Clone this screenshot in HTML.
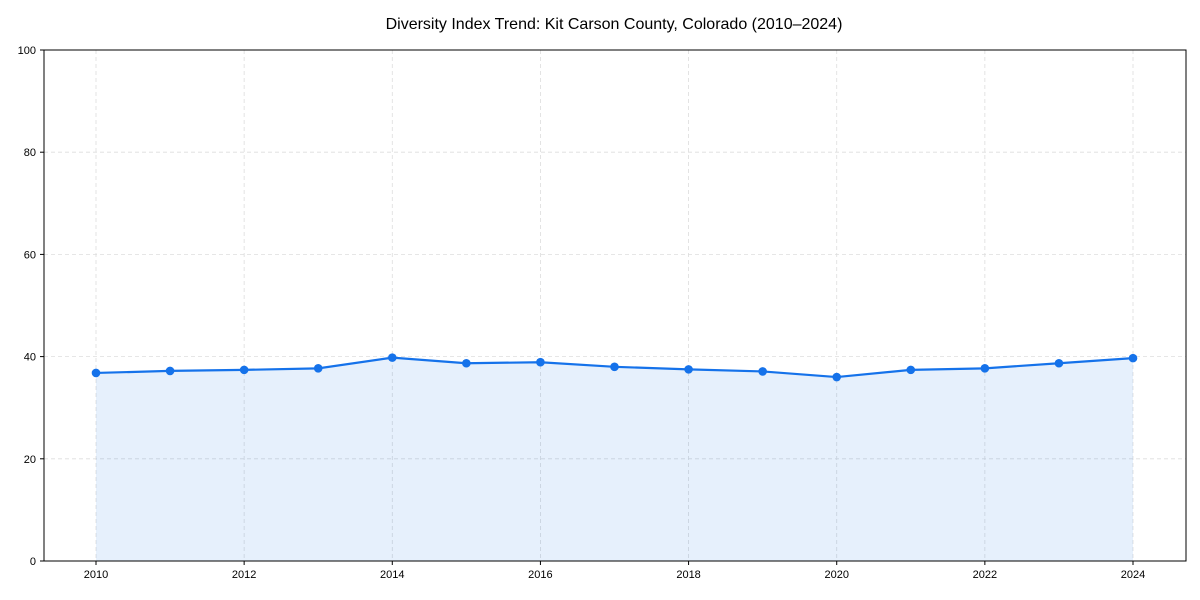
<!DOCTYPE html>
<html><head><meta charset="utf-8">
<style>
html,body{margin:0;padding:0;background:#fff;}
svg{display:block;font-family:"Liberation Sans",Arial,sans-serif;}
</style></head>
<body>
<svg id="chart" width="1200" height="600">
<text x="614" y="29" text-anchor="middle" font-size="16" fill="#000">Diversity Index Trend: Kit Carson County, Colorado (2010–2024)</text>
<g id="grid"></g>
<g id="marks"></g>
<rect x="44" y="50" width="1142" height="511" fill="none" stroke="#000" stroke-width="1"/>
<g id="axes"></g>
</svg>
<script>
const years = [2010,2011,2012,2013,2014,2015,2016,2017,2018,2019,2020,2021,2022,2023,2024];
const values = [36.8,37.2,37.4,37.7,39.8,38.7,38.9,38.0,37.5,37.1,36.0,37.4,37.7,38.7,39.7];
const xTicks = [2010,2012,2014,2016,2018,2020,2022,2024];
const yTicks = [0,20,40,60,80,100];

const NS="http://www.w3.org/2000/svg";
const L=44,R=1186,T=50,B=561;
const x=v=>96+(v-2010)*(1133-96)/14;
const y=v=>B-(v/100)*(B-T);
function mk(tag,attrs,parent){const e=document.createElementNS(NS,tag);for(const k in attrs)e.setAttribute(k,attrs[k]);parent.appendChild(e);return e;}
const grid=document.getElementById('grid'),marks=document.getElementById('marks'),axes=document.getElementById('axes');

xTicks.forEach(t=>{
  const g=mk('line',{x1:x(t),x2:x(t),y1:T,y2:B,stroke:'#ddd','stroke-dasharray':'4,3','stroke-width':0.8},grid);
  
  
  mk('line',{x1:x(t),x2:x(t),y1:B,y2:B+4,stroke:'#000'},axes);
  const tx=mk('text',{x:x(t),y:B+17,'text-anchor':'middle','font-size':11},axes);
  tx.textContent=t;
  
  
});
yTicks.forEach(t=>{
  if(t>0&&t<100){const g=mk('line',{x1:L,x2:R,y1:y(t),y2:y(t),stroke:'#ddd','stroke-dasharray':'4,3','stroke-width':0.8},grid);
  
  }
  mk('line',{x1:L-4,x2:L,y1:y(t),y2:y(t),stroke:'#000'},axes);
  const tx=mk('text',{x:L-8,y:y(t)+4,'text-anchor':'end','font-size':11},axes);
  tx.textContent=t;
  
  
});

let pts=years.map((yr,i)=>x(yr)+','+y(values[i]));
const area=mk('polygon',{points:x(years[0])+','+B+' '+pts.join(' ')+' '+x(years[years.length-1])+','+B,fill:'#1a73e8','fill-opacity':0.11,stroke:'none'},marks);


const line=mk('polyline',{points:pts.join(' '),fill:'none',stroke:'#1572ea','stroke-width':2.2},marks);


years.forEach((yr,i)=>{
  const c=mk('circle',{cx:x(yr),cy:y(values[i]),r:4.3,fill:'#1572ea'},marks);
  
  
});
</script>
</body></html>
